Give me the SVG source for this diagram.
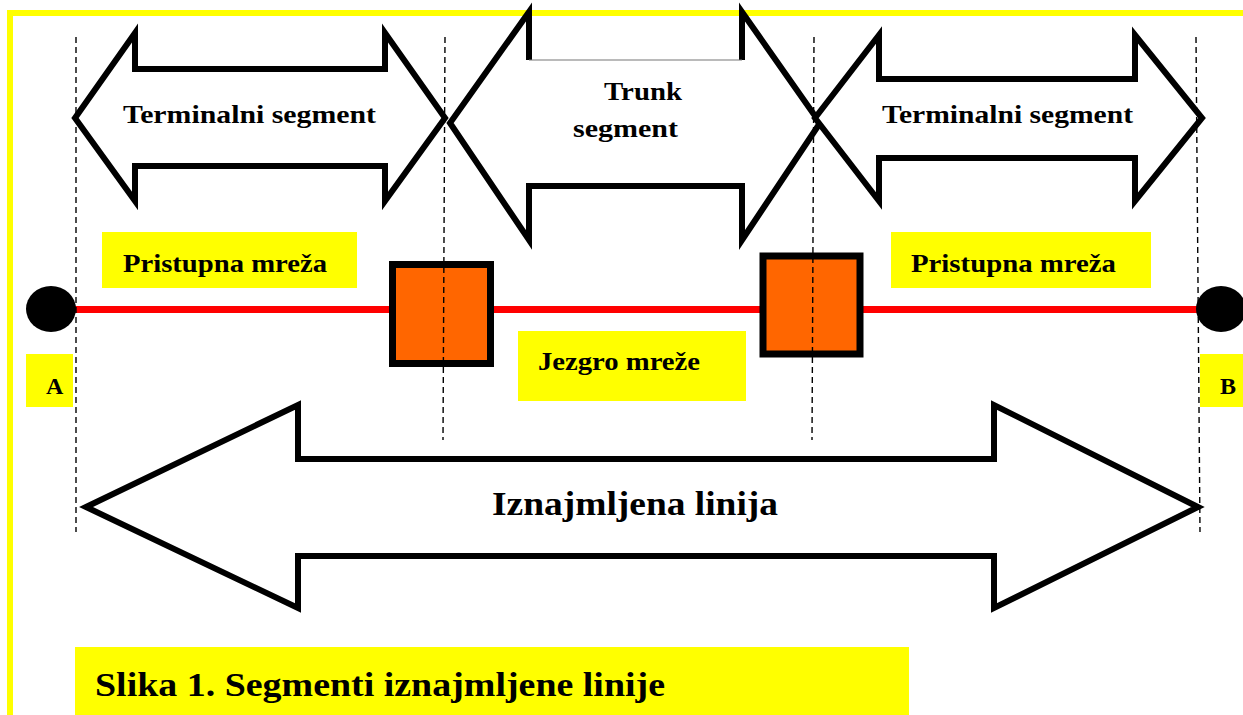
<svg xmlns="http://www.w3.org/2000/svg" width="1243" height="715" viewBox="0 0 1243 715">
<style>
.arrow{fill:#fff;stroke:#000;stroke-width:6;stroke-linejoin:miter;stroke-miterlimit:10}
.dash{stroke:#000;stroke-width:1.4;stroke-dasharray:6,4;fill:none}
.lbl{fill:#ffff00}
.t{font-family:"Liberation Serif","DejaVu Serif",serif;font-weight:bold;fill:#000}
.box{fill:#ff6600;stroke:#000;stroke-width:7}
</style>
<rect width="1243" height="715" fill="#fff"/>
<g id="frame">
<rect x="7" y="10" width="1236" height="6" fill="#ffff00"/>
<rect x="7" y="10" width="6" height="705" fill="#ffff00"/>
</g>
<g id="trunk-segment">
<path d="M529,60 L529,12 L450,123 L529,240 L529,186 L742,186 L742,240 L820,123 L742,12 L742,60 Z" fill="#fff"/>
<path d="M529,60 L529,12 L450,123 L529,240 L529,186 L742,186 L742,240 L820,123 L742,12 L742,60" fill="none" stroke="#000" stroke-width="6" stroke-miterlimit="10"/>
<line x1="529" y1="60" x2="742" y2="60" stroke="#777" stroke-width="1.2"/>
<text class="t" x="604" y="100" font-size="25" textLength="78" lengthAdjust="spacingAndGlyphs">Trunk</text>
<text class="t" x="573" y="137" font-size="25" textLength="105" lengthAdjust="spacingAndGlyphs">segment</text>
</g>
<g id="terminal-left">
<path class="arrow" d="M75,118 L135,33 L135,69 L385,69 L385,33 L445,118 L385,201 L385,166 L135,166 L135,201 Z"/>
<text class="t" x="123" y="123" font-size="25" textLength="253" lengthAdjust="spacingAndGlyphs">Terminalni segment</text>
</g>
<g id="terminal-right">
<path class="arrow" d="M815,118 L879,35 L879,79 L1135,79 L1135,35 L1202,118 L1135,201 L1135,158 L879,158 L879,201 Z"/>
<text class="t" x="882" y="123" font-size="25" textLength="251" lengthAdjust="spacingAndGlyphs">Terminalni segment</text>
</g>
<g id="leased-line">
<path class="arrow" d="M86,507 L298,405 L298,459 L994,459 L994,405 L1198,507 L994,608 L994,556 L298,556 L298,608 Z"/>
<text class="t" x="492" y="515" font-size="34" textLength="286" lengthAdjust="spacingAndGlyphs">Iznajmljena linija</text>
</g>
<g id="connectors">
<line x1="73" y1="309.5" x2="1200" y2="309.5" stroke="#ff0000" stroke-width="7"/>
</g>
<g id="node-A">
<ellipse cx="51" cy="309" rx="25" ry="23" fill="#000"/>
<rect class="lbl" x="26" y="354" width="47" height="53"/>
<text class="t" x="46" y="394" font-size="24">A</text>
</g>
<g id="node-B">
<ellipse cx="1221" cy="309" rx="25" ry="23" fill="#000"/>
<rect class="lbl" x="1200" y="354" width="43" height="53"/>
<text class="t" x="1220" y="394" font-size="24">B</text>
</g>
<g id="switch-left">
<rect class="box" x="392.5" y="264.5" width="98" height="99"/>
</g>
<g id="switch-right">
<rect class="box" x="763" y="256" width="97" height="98" stroke-width="6"/>
</g>
<g id="label-access-left">
<rect class="lbl" x="102" y="232" width="255" height="56"/>
<text class="t" x="123" y="272" font-size="25" textLength="204" lengthAdjust="spacingAndGlyphs">Pristupna mreža</text>
</g>
<g id="label-access-right">
<rect class="lbl" x="891" y="232" width="260" height="56"/>
<text class="t" x="911" y="272" font-size="25" textLength="205" lengthAdjust="spacingAndGlyphs">Pristupna mreža</text>
</g>
<g id="label-core">
<rect class="lbl" x="518" y="331" width="228" height="70"/>
<text class="t" x="538" y="370" font-size="25" textLength="162" lengthAdjust="spacingAndGlyphs">Jezgro mreže</text>
</g>
<g id="dividers">
<line class="dash" x1="76" y1="37" x2="76" y2="532"/>
<line class="dash" x1="445" y1="37" x2="443" y2="440"/>
<line class="dash" x1="814" y1="37" x2="812" y2="440"/>
<line class="dash" x1="1196" y1="37" x2="1200" y2="532"/>
</g>
<g id="caption">
<rect class="lbl" x="75" y="647" width="834" height="68"/>
<text class="t" x="95" y="696" font-size="34" textLength="570" lengthAdjust="spacingAndGlyphs">Slika 1. Segmenti iznajmljene linije</text>
</g>
</svg>
